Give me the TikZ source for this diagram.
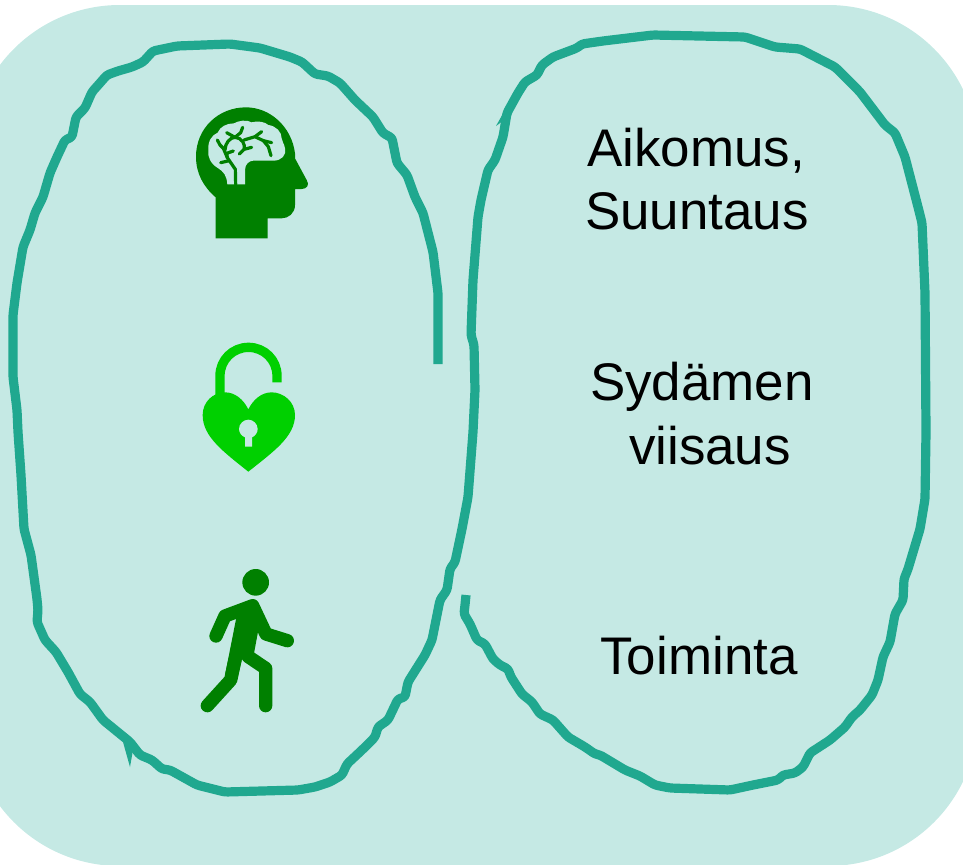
\documentclass[tikz,border=0pt]{standalone}
\usepackage{fontspec}
\setmainfont{Liberation Sans}
\definecolor{bgc}{HTML}{C5E9E4}
\definecolor{loopc}{HTML}{20A88F}
\definecolor{darkg}{HTML}{008000}
\definecolor{lockg}{HTML}{00D000}
\tikzset{
  loopline/.style={draw=loopc,line width=6.9pt,line cap=butt,line join=round,rounded corners=2pt},
  lab/.style={anchor=base,inner sep=0pt,font=\fontsize{39.7}{39.7}\selectfont,text=black},
  icon/.style={shift={#1},scale=0.33333}
}
\begin{document}
\begin{tikzpicture}[x=0.75pt,y=-0.75pt]
\useasboundingbox (0,0) rectangle (963,864);
\clip (0,0) rectangle (963,864);
% panel
\fill[bgc] (120,5) -- (828,5) .. controls (911,5) and (978,72) .. (978,155)
  -- (978,716) .. controls (978,799) and (911,866) .. (828,866)
  -- (120,866) .. controls (37,866) and (-30,799) .. (-30,716)
  -- (-30,155) .. controls (-30,72) and (37,5) .. (120,5) -- cycle;
% left loop
\draw[loopline] (438,364) -- (438,293) -- (433,252) -- (423,213) -- (415,197) -- (407,175) -- (397,163) -- (392,138) -- (383,133) -- (373,117) -- (355,100) -- (340,83) -- (328,76) -- (315,74) -- (302,62) -- (290,57) -- (260,48) -- (230,44) -- (177,46) -- (153,51) -- (143,62) -- (132,67) -- (118,71) -- (107,75) -- (100,83) -- (92,92) -- (85,108) -- (76,117) -- (72,137) -- (65,140) -- (57,157) -- (50,173) -- (43,197) -- (35,213) -- (30,230) -- (23,247) -- (17,283) -- (13,315) -- (13,377) -- (17,410) -- (18,432) -- (21,475) -- (24,529) -- (31,555) -- (37,599) -- (38,610) -- (37,622) -- (45,640) -- (56,652) -- (68,672) -- (80,694) -- (90,702) -- (103,720) -- (130,742) -- (140,755) -- (152,760) -- (162,769) -- (170,770) -- (197,785) -- (225,792) -- (298,790) -- (315,787) -- (330,782) -- (342,775) -- (347,764) -- (362,750) -- (375,737) -- (378,727) -- (388,720) -- (398,699) -- (405,697) -- (408,682) -- (425,655) -- (432,640) -- (440,600) -- (447,590) -- (450,569) -- (455,562) -- (462,529) -- (468,497) -- (473,432) -- (475,390) -- (474,345) -- (471,335) -- (473,280) -- (478,217) -- (481,200) -- (488,170) -- (495,160) -- (503,137) -- (507,113) -- (518,93) -- (525,82) -- (537,75) -- (542,65) -- (553,57) -- (577,48) -- (582,44) -- (603,41) -- (653,35) -- (745,37) -- (775,47) -- (800,49) -- (835,67) -- (860,92) -- (885,125) -- (895,133) -- (905,157) -- (918,207) -- (922,223) -- (925,293) -- (926,432) -- (925,499) -- (920,529) -- (908,569) -- (904,579) -- (903,600) -- (895,614) -- (890,642) -- (883,657) -- (878,680) -- (872,695) -- (860,710) -- (852,717) -- (845,727) -- (830,740) -- (810,753) -- (803,767) -- (795,773) -- (783,775) -- (778,780) -- (753,785) -- (730,790) -- (670,788) -- (655,785) -- (640,776) -- (625,770) -- (600,755) -- (595,754) -- (585,747) -- (568,737) -- (553,720) -- (540,714) -- (532,702) -- (522,694) -- (511,677) -- (508,669) -- (500,665) -- (493,659) -- (485,644) -- (477,640) -- (470,624) -- (464,614) -- (465,605) -- (466,595);
% small spikes on the pen line
\fill[loopc] (123,742) -- (130,767) -- (133,750) -- cycle;
\fill[loopc] (496,126) -- (505,110) -- (507,118) -- cycle;
% head with brain
\begin{scope}[icon={(170,90)}]
  \fill[darkg] (137,445) -- (137,322) .. controls (100,290) and (78,250) .. (78,200)
    .. controls (78,115) and (145,52) .. (228,52) .. controls (300,52) and (365,110) .. (375,190)
    -- (375,205) -- (410,270) .. controls (420,285) and (410,297) .. (395,297) -- (375,297)
    -- (375,345) .. controls (375,370) and (355,385) .. (335,385) -- (293,385) -- (293,445) -- cycle;
  \fill[bgc] (172,283) -- (225,283) -- (225,240) .. controls (225,222) and (238,212) .. (250,212)
    -- (310,212) .. controls (335,212) and (350,195) .. (345,175) .. controls (343,160) and (335,155) .. (335,145)
    .. controls (335,125) and (318,108) .. (295,105) .. controls (285,95) and (262,92) .. (245,97)
    .. controls (230,88) and (205,92) .. (192,100) .. controls (170,100) and (150,110) .. (143,128)
    .. controls (125,135) and (113,155) .. (115,180) .. controls (112,200) and (122,222) .. (145,235)
    .. controls (160,245) and (170,255) .. (172,283) -- cycle;
  \begin{scope}[draw=darkg,line width=2.4pt,line cap=round,line join=round]
    \draw (197,283) -- (196,238) -- (172,203) -- (160,175) -- (150,165) -- (142,150);
    \draw (172,203) -- (170,190) -- (190,183);
    \draw (178,212) -- (152,218);
    \draw (165,180) .. controls (165,160) and (180,142) .. (195,142) .. controls (215,142) and (228,165) .. (222,178) -- (208,192);
    \draw (222,178) -- (245,172);
    \draw (195,142) -- (170,128);
    \draw (195,142) -- (212,128) -- (218,112);
    \draw (222,150) -- (255,140) -- (275,125);
    \draw (255,140) -- (280,152) -- (305,158);
    \draw (280,152) -- (295,170) -- (303,197);
  \end{scope}
\end{scope}
% heart padlock
\begin{scope}[icon={(180,330)}]
  \draw[lockg,line width=7pt] (120,205) -- (120,137) .. controls (120,90) and (158,52) .. (205.5,52) .. controls (253,52) and (291,90) .. (291,137) -- (291,157);
  \fill[lockg] (205,425) .. controls (130,365) and (68,320) .. (68,255) .. controls (68,215) and (100,187) .. (135,187)
    .. controls (165,187) and (190,208) .. (205,238) .. controls (220,208) and (245,187) .. (275,187)
    .. controls (310,187) and (345,215) .. (345,255) .. controls (345,320) and (280,365) .. (205,425) -- cycle;
  \fill[bgc] (205,269) .. controls (220,269) and (233,282) .. (233,297) .. controls (233,308) and (226,318) .. (216,322)
    -- (216,350) -- (195,350) -- (195,322) .. controls (185,318) and (177,308) .. (177,297) .. controls (177,282) and (190,269) .. (205,269) -- cycle;
\end{scope}
% walking figure
\begin{scope}[icon={(180,560)}]
  \fill[darkg] (227,27) .. controls (249,27) and (267,45) .. (267,67) .. controls (267,89) and (249,107) .. (227,107)
    .. controls (205,107) and (187,89) .. (187,67) .. controls (187,45) and (205,27) .. (227,27) -- cycle;
  \begin{scope}[draw=darkg,line width=10pt,line cap=round,line join=round]
    \draw (108,228) -- (135,168) -- (218,137) -- (258,222) -- (322,242);
    \draw (257,437) -- (257,325) -- (205,290);
    \draw (82,437) -- (152,360) -- (165,300);
  \end{scope}
  \fill[darkg] (168,178) -- (158,150) -- (225,130) -- (240,190) -- (235,210) -- (222,280) -- (185,300) -- (170,365) -- (135,345) -- cycle;
\end{scope}
% labels
\node[lab] (aikomus) at (696,166) {Aikomus,};
\node[lab] (suuntaus) at (697,229) {Suuntaus};
\node[lab] (sydamen) at (702,400) {Sydämen};
\node[lab] (viisaus) at (710,464) {viisaus};
\node[lab] (toiminta) at (699,674) {Toiminta};
\end{tikzpicture}
\end{document}
